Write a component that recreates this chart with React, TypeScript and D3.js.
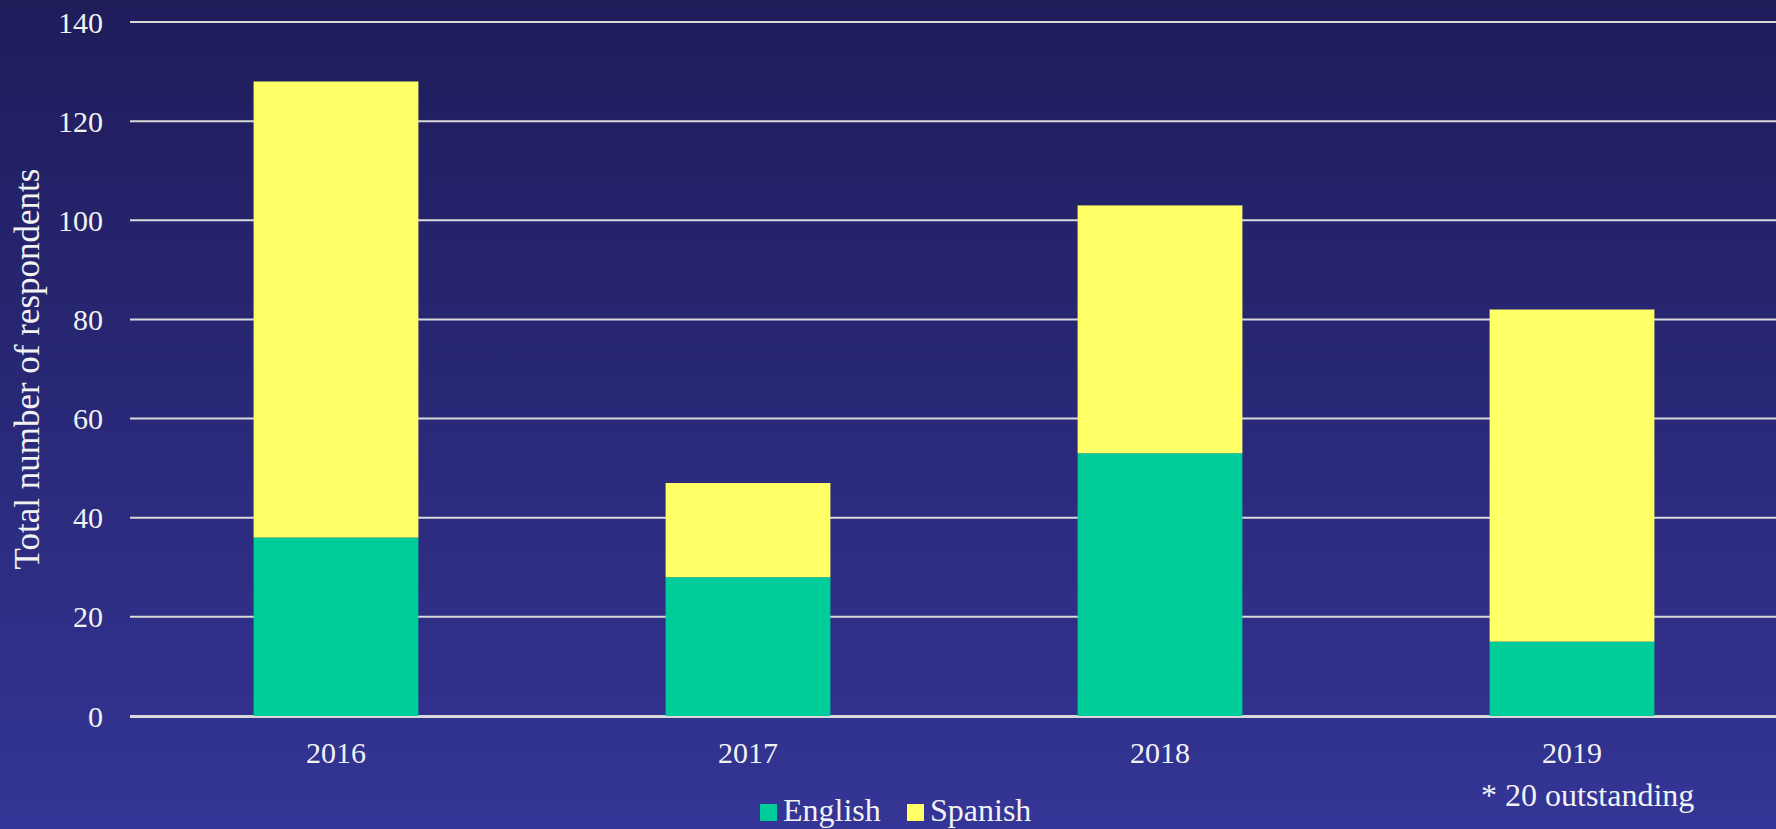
import React, { useEffect, useRef } from 'react';
import * as d3 from 'd3';

const years = ['2016', '2017', '2018', '2019'];
const english = [36, 28, 53, 15];
const spanish = [92, 19, 50, 67];
const yTicks = [0, 20, 40, 60, 80, 100, 120, 140];
const seriesNames = ['English', 'Spanish'];
const seriesColors = ['#00cc99', '#ffff66'];

const App = () => {
  const chartRef = useRef<HTMLDivElement>(null);

  useEffect(() => {
    const width = 1776;
    const height = 829;
    const font = '"Liberation Serif", "Times New Roman", serif';
    const textColor = '#f2f2f2';

    d3.select(chartRef.current).select('svg').remove();

    const svg = d3
      .select(chartRef.current)
      .append('svg')
      .attr('width', width)
      .attr('height', height)
      .style('display', 'block');

    // Background gradient
    const defs = svg.append('defs');
    const grad = defs
      .append('linearGradient')
      .attr('id', 'bg')
      .attr('x1', 0)
      .attr('y1', 0)
      .attr('x2', 0)
      .attr('y2', 1);
    grad.append('stop').attr('offset', '0%').attr('stop-color', '#1f1c5a');
    grad.append('stop').attr('offset', '100%').attr('stop-color', '#343596');

    svg.append('rect').attr('width', width).attr('height', height).attr('fill', 'url(#bg)');

    const x = d3
      .scaleBand()
      .domain(years)
      .range([130, 1778])
      .paddingInner(0.6)
      .paddingOuter(0.3);

    const y = d3.scaleLinear().domain([0, 140]).range([716, 22]);

    // Gridlines
    svg
      .append('g')
      .selectAll('line')
      .data(yTicks)
      .enter()
      .append('line')
      .attr('x1', 130)
      .attr('x2', width)
      .attr('y1', (d) => y(d))
      .attr('y2', (d) => y(d))
      .attr('stroke', '#d9d9d9')
      .attr('stroke-width', 2);

    // Y tick labels
    svg
      .append('g')
      .selectAll('text')
      .data(yTicks)
      .enter()
      .append('text')
      .attr('x', 103)
      .attr('y', (d) => y(d))
      .attr('dy', '0.35em')
      .attr('text-anchor', 'end')
      .attr('font-family', font)
      .attr('font-size', 30)
      .attr('fill', textColor)
      .text((d) => d);

    // Stacked bars
    const rows = years.map((yr, i) => ({ year: yr, English: english[i], Spanish: spanish[i] }));
    const stack = d3.stack<any>().keys(seriesNames)(rows);

    svg
      .append('g')
      .selectAll('g')
      .data(stack)
      .enter()
      .append('g')
      .attr('fill', (_d, i) => seriesColors[i])
      .selectAll('rect')
      .data((d) => d)
      .enter()
      .append('rect')
      .attr('x', (d: any) => x(d.data.year) as number)
      .attr('width', x.bandwidth())
      .attr('y', (d) => y(d[1]))
      .attr('height', (d) => y(d[0]) - y(d[1]));

    // Redraw baseline over bars
    svg
      .append('line')
      .attr('x1', 130)
      .attr('x2', width)
      .attr('y1', y(0) + 1)
      .attr('y2', y(0) + 1)
      .attr('stroke', '#d9d9d9')
      .attr('stroke-width', 2);

    // X labels
    svg
      .append('g')
      .selectAll('text')
      .data(years)
      .enter()
      .append('text')
      .attr('x', (d) => (x(d) as number) + x.bandwidth() / 2)
      .attr('y', 763)
      .attr('text-anchor', 'middle')
      .attr('font-family', font)
      .attr('font-size', 30)
      .attr('fill', textColor)
      .text((d) => d);

    // Footnote
    svg
      .append('text')
      .attr('x', 1481)
      .attr('y', 806)
      .attr('font-family', font)
      .attr('font-size', 32)
      .attr('fill', textColor)
      .text('* 20 outstanding');

    // Y axis title
    svg
      .append('text')
      .attr('transform', 'translate(39, 369) rotate(-90)')
      .attr('text-anchor', 'middle')
      .attr('font-family', font)
      .attr('font-size', 35)
      .attr('fill', textColor)
      .text('Total number of respondents');

    // Legend
    const legendX = [760, 907];
    const legend = svg
      .append('g')
      .selectAll('g')
      .data(seriesNames)
      .enter()
      .append('g')
      .attr('transform', (_d, i) => `translate(${legendX[i]}, 804)`);

    legend
      .append('rect')
      .attr('width', 17)
      .attr('height', 17)
      .attr('fill', (_d, i) => seriesColors[i]);

    legend
      .append('text')
      .attr('x', 23)
      .attr('y', 17)
      .attr('font-family', font)
      .attr('font-size', 32)
      .attr('fill', textColor)
      .text((d) => d);
  }, []);

  return <div ref={chartRef} style={{ position: 'fixed', top: 0, left: 0 }}></div>;
};

export default App;
